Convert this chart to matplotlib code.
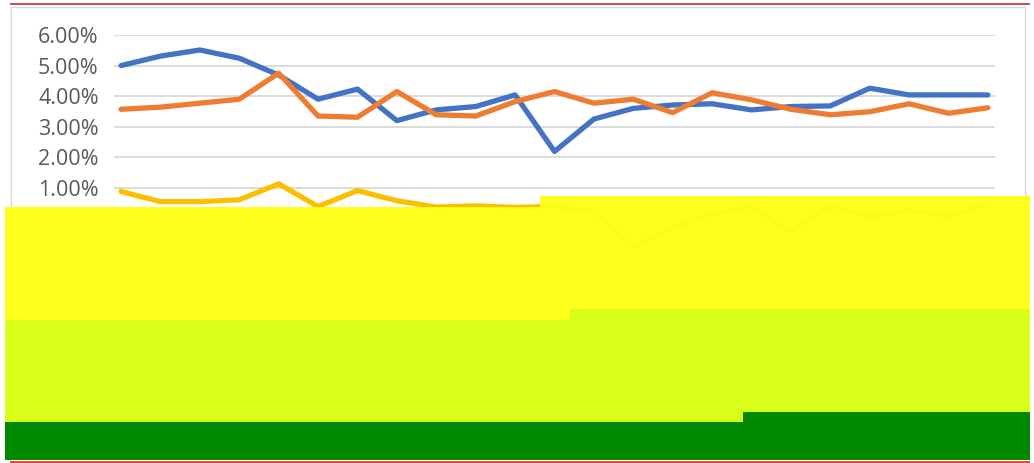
import matplotlib.pyplot as plt
from matplotlib.patches import Rectangle
from matplotlib.ticker import PercentFormatter

# Three rate series (in %), 23 periods
periods = list(range(23))
blue = [5.00, 5.31, 5.51, 5.24, 4.69, 3.90, 4.23, 3.20, 3.55, 3.66, 4.04, 2.19,
        3.25, 3.60, 3.71, 3.75, 3.55, 3.66, 3.68, 4.26, 4.04, 4.04, 4.04]
orange = [3.57, 3.64, 3.77, 3.90, 4.75, 3.35, 3.31, 4.15, 3.39, 3.35, 3.82, 4.15,
          3.77, 3.90, 3.46, 4.11, 3.88, 3.57, 3.39, 3.49, 3.75, 3.44, 3.62]
yellow = [0.88, 0.55, 0.55, 0.61, 1.13, 0.39, 0.91, 0.58, 0.37, 0.41, 0.36, 0.39,
          0.23, -0.92, -0.31, 0.15, 0.39, -0.43, 0.41, 0.06, 0.26, 0.06, 0.52]
yticks = [-1, 0, 1, 2, 3, 4, 5, 6]

W, H = 1034, 463
fig = plt.figure(figsize=(W / 100, H / 100), dpi=100)
plt.rcParams['font.family'] = ['Open Sans', 'DejaVu Sans']

# plot area in pixel terms: left 114, right 995, 6% at y=35, -1% at y=249
ax = fig.add_axes([114 / W, 1 - 249 / H, (995 - 114) / W, (249 - 35) / H])
ax.plot(periods, blue, color='#4472C4', lw=3.8, solid_capstyle='round', zorder=3)
ax.plot(periods, orange, color='#ED7D31', lw=3.8, solid_capstyle='round', zorder=3)
ax.plot(periods, yellow, color='#FFC000', lw=3.8, solid_capstyle='round', zorder=2)

ax.set_xlim(-0.18, 22.18)
ax.set_ylim(-1, 6)
ax.set_yticks(yticks)
ax.yaxis.set_major_formatter(PercentFormatter(decimals=2))
ax.tick_params(axis='y', length=0, pad=11, labelsize=15.5, labelcolor='#595959')
ax.set_xticks([])
ax.grid(axis='y', color='#D9D9D9', lw=1.3)
ax.set_axisbelow(True)
for s in ax.spines.values():
    s.set_visible(False)

# chart border and red rules of the screenshot
def fig_rect(x0, y0, x1, y1, **kw):
    # pixel coords (top-left origin) -> figure fraction
    return Rectangle((x0 / W, 1 - y1 / H), (x1 - x0) / W, (y1 - y0) / H,
                     transform=fig.transFigure, **kw)

border = fig_rect(11, 7, 1025, 455, fill=False, ec='#D9D9D9', lw=1, zorder=-1)
fig.patches.append(border)
fig.patches.append(fig_rect(10, 3, 1030, 5, color='#DD4A4A', lw=0))
fig.patches.append(fig_rect(10, 461, 1030, 463, color='#DD4A4A', lw=0))

# opaque coloured blocks covering the lower part of the screenshot
blocks = [
    (5, 207, 540, 320, '#FFFF1E'),
    (540, 196, 1030, 320, '#FFFF1E'),
    (5, 320, 570, 422, '#D8FF1A'),
    (570, 309, 1030, 422, '#D8FF1A'),
    (5, 422, 743, 460, '#008800'),
    (743, 412, 1030, 460, '#008800'),
]
for x0, y0, x1, y1, c in blocks:
    r = fig_rect(x0, y0, x1, y1, color=c, lw=0, zorder=5)
    r.set_clip_on(False)
    ax.add_artist(r)

# faint trace of the yellow series showing through the block
ax.plot(periods, yellow, color='#C8A000', lw=2.5, alpha=0.05, zorder=6)

fig.savefig('out.png', dpi=100)
